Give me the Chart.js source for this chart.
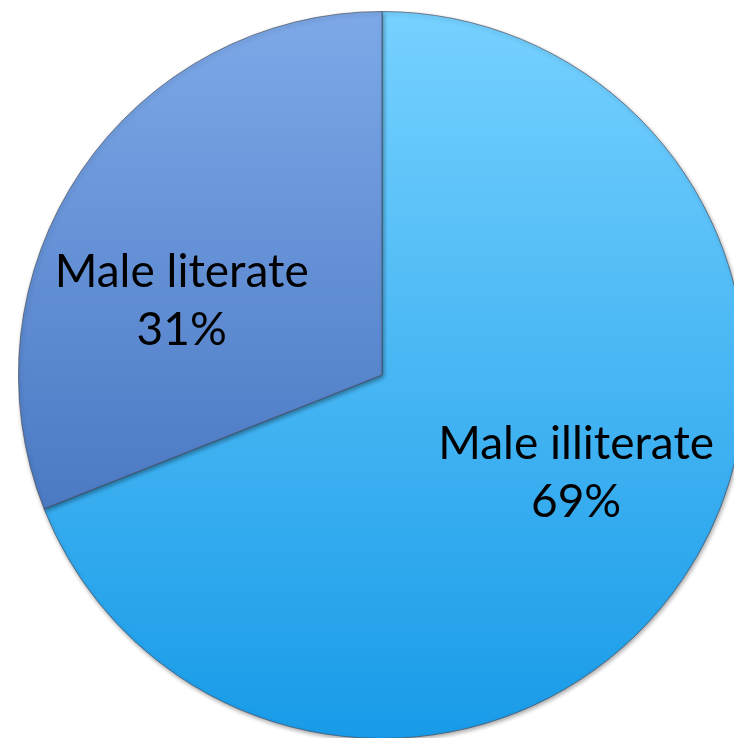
<!DOCTYPE html>
<html>
<head>
<meta charset="utf-8">
<script src="https://cdn.jsdelivr.net/npm/chart.js@4.4.1/dist/chart.umd.min.js"></script>
<style>
    html, body { margin: 0; padding: 0; background: #fff; overflow: hidden; width: 734px; height: 738px; }
    #wrap { position: absolute; left: 18px; top: 11px; width: 728px; height: 728px; }
</style>
</head>
<body>
<div id="wrap"><canvas id="pie"></canvas></div>
<script>
// chart data
const labels = ['Male illiterate', 'Male literate'];
const values = [69, 31];
const percentLabels = ['69%', '31%'];

// gradient stops per slice (top -> bottom)
const sliceColors = [
    ['#76D1FF', '#189BE8'],
    ['#7DA9E8', '#3463B2']
];

// label anchors relative to pie center, in fractions of radius
const labelAnchors = [
    { x: 0.534, y: 0.31 },
    { x: -0.551, y: -0.163 }
];

function makeGradient(context) {
    const chart = context.chart;
    const area = chart.chartArea;
    if (!area) return sliceColors[context.dataIndex][0];
    const g = chart.ctx.createLinearGradient(0, area.top, 0, area.bottom);
    g.addColorStop(0, sliceColors[context.dataIndex][0]);
    g.addColorStop(1, sliceColors[context.dataIndex][1]);
    return g;
}

const shadowPlugin = {
    id: 'shadow',
    beforeDatasetsDraw(chart) {
        const ctx = chart.ctx;
        ctx.save();
        ctx.shadowColor = 'rgba(0,0,0,0.35)';
        ctx.shadowBlur = 4;
        ctx.shadowOffsetX = 1;
        ctx.shadowOffsetY = 2;
    },
    afterDatasetsDraw(chart) {
        chart.ctx.restore();
    }
};

const labelPlugin = {
    id: 'sliceLabels',
    afterDraw(chart) {
        const ctx = chart.ctx;
        const arc = chart.getDatasetMeta(0).data[0];
        const cx = arc.x, cy = arc.y, r = arc.outerRadius;
        ctx.save();
        ctx.fillStyle = '#000';
        ctx.textAlign = 'center';
        ctx.textBaseline = 'alphabetic';
        ctx.font = '46px Lato';
        labels.forEach((name, i) => {
            const px = cx + labelAnchors[i].x * r;
            const py = cy + labelAnchors[i].y * r;
            ctx.fillText(name, px, py - 29);
            ctx.fillText(percentLabels[i], px, py + 29);
        });
        ctx.restore();
    }
};

new Chart(document.getElementById('pie'), {
    type: 'pie',
    data: {
        labels: labels,
        datasets: [{
            data: values,
            backgroundColor: makeGradient,
            borderColor: 'rgba(70,80,100,0.7)',
            borderWidth: 1
        }]
    },
    options: {
        responsive: true,
        maintainAspectRatio: false,
        animation: false,
        layout: { padding: 0 },
        plugins: {
            legend: { display: false },
            tooltip: { enabled: false }
        }
    },
    plugins: [shadowPlugin, labelPlugin]
});
</script>
</body>
</html>
